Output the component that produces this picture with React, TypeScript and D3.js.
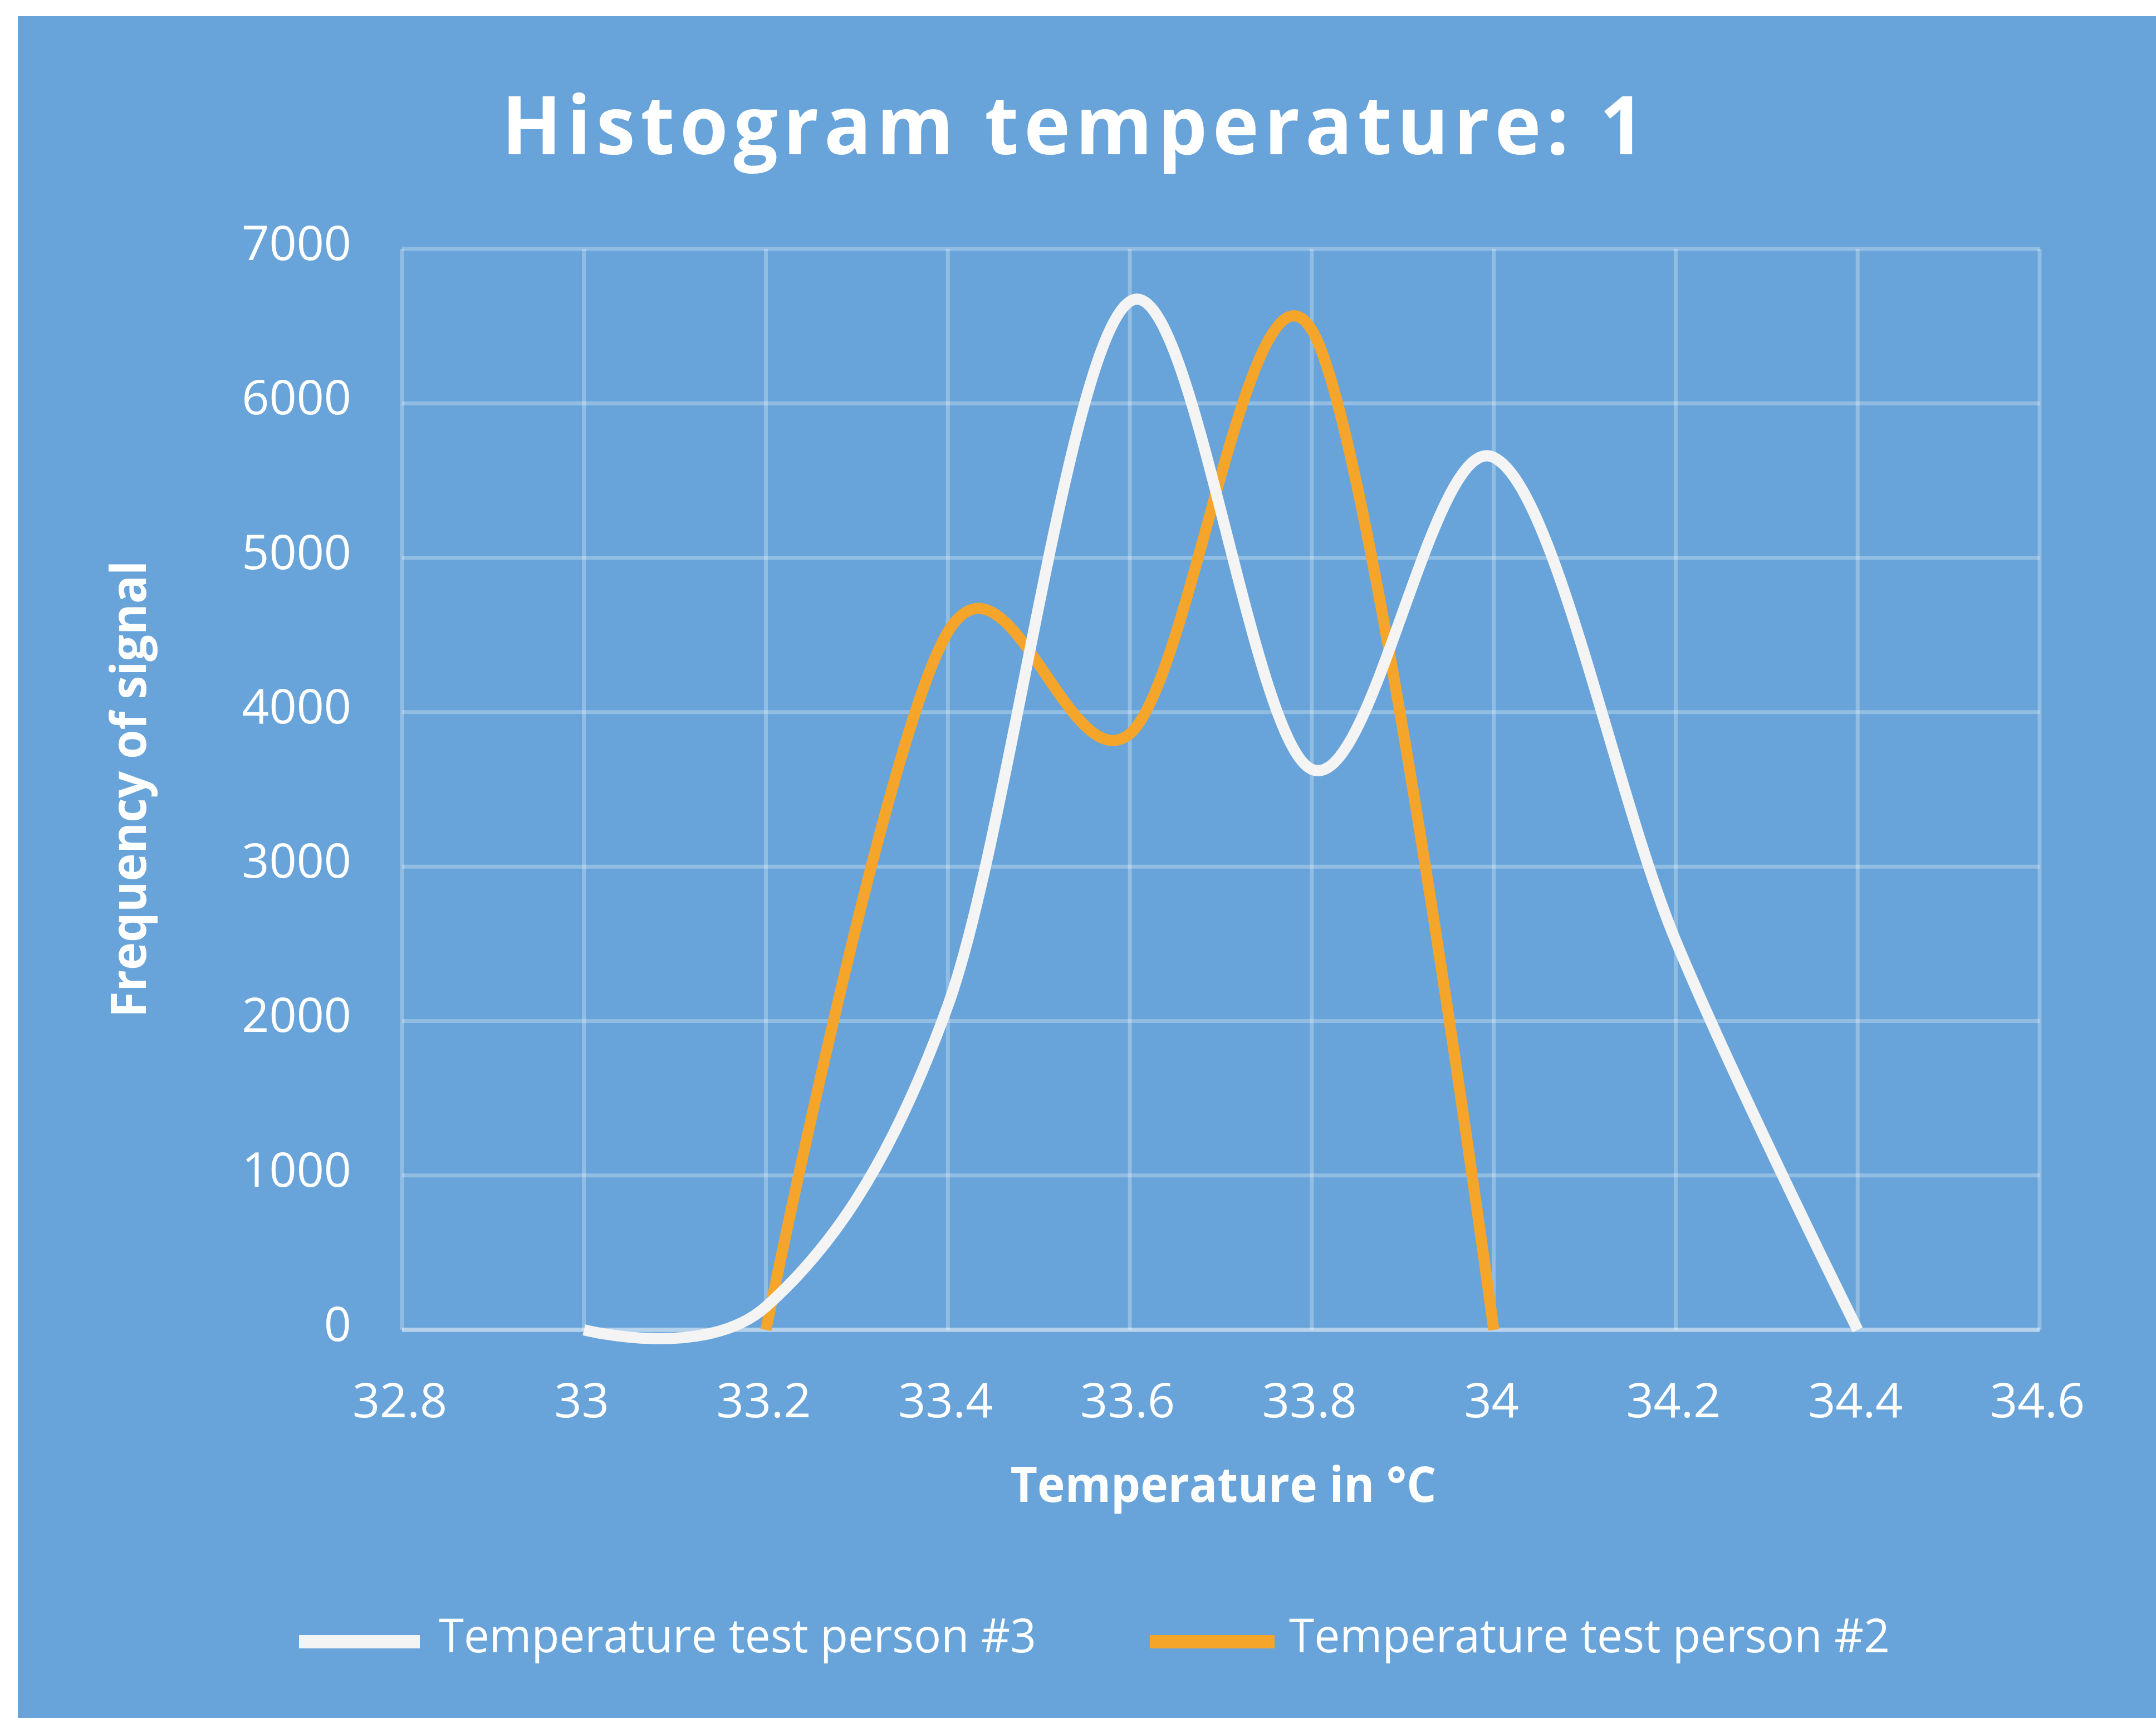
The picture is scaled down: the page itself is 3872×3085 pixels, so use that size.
import React from "react";
import * as d3 from "d3";

const xTickValues = [32.8, 33, 33.2, 33.4, 33.6, 33.8, 34, 34.2, 34.4, 34.6];
const xTickLabels = ["32.8", "33", "33.2", "33.4", "33.6", "33.8", "34", "34.2", "34.4", "34.6"];
const yTickValues = [0, 1000, 2000, 3000, 4000, 5000, 6000, 7000];

const person3Temps = [33.0, 33.2, 33.4, 33.6, 33.8, 34.0, 34.2, 34.4];
const person3Freq = [0, 150, 2100, 6660, 3630, 5650, 2520, 0];

const person2Temps = [33.2, 33.4, 33.6, 33.8, 34.0];
const person2Freq = [0, 4520, 3860, 6475, 0];

const seriesNames = ["Temperature test person #3", "Temperature test person #2"];
const titleText = "Histogram temperature: 1";
const xTitle = "Temperature in °C";
const yTitle = "Frequency of signal";

const W = 3872;
const H = 3085;
const BG = "#68A4D9";
const WHITE_LINE = "#F4F4F4";
const ORANGE = "#F5A52A";
const GRID = "rgba(255,255,255,0.28)";
const FONT = "'Open Sans', 'Noto Sans', sans-serif";

export default function App() {
  const left = 722, right = 3663, top = 447, bottom = 2388;
  const x = d3.scaleLinear().domain([32.8, 34.6]).range([left, right]);
  const y = d3.scaleLinear().domain([0, 7000]).range([bottom, top]);

  const line = d3
    .line<[number, number]>()
    .x((d) => x(d[0]))
    .y((d) => y(d[1]))
    .curve(d3.curveCardinal.tension(0));

  const p3 = person3Temps.map((t, i) => [t, person3Freq[i]] as [number, number]);
  const p2 = person2Temps.map((t, i) => [t, person2Freq[i]] as [number, number]);

  return (
    <svg
      width={W}
      height={H}
      style={{ position: "absolute", left: 0, top: 0, display: "block" }}
      xmlns="http://www.w3.org/2000/svg"
    >
      <rect x={0} y={0} width={W} height={H} fill="#ffffff" />
      <rect x={32} y={29} width={W - 32} height={H - 29} fill={BG} />

      <text
        x={1932}
        y={277}
        textAnchor="middle"
        fontFamily={FONT}
        fontWeight={700}
        fontSize={146}
        fill="#ffffff"
        letterSpacing={10}
        textLength={2062}
        lengthAdjust="spacingAndGlyphs"
      >
        {titleText}
      </text>

      {/* grid */}
      {yTickValues.map((v) => (
        <line key={"gy" + v} x1={left} x2={right} y1={y(v)} y2={y(v)} stroke={GRID} strokeWidth={7} />
      ))}
      {xTickValues.map((v) => (
        <line key={"gx" + v} x1={x(v)} x2={x(v)} y1={top} y2={bottom} stroke={GRID} strokeWidth={7} />
      ))}
      <line x1={left} x2={right} y1={y(0)} y2={y(0)} stroke="rgba(255,255,255,0.32)" strokeWidth={8} />

      {/* y tick labels */}
      {yTickValues.map((v) => (
        <text
          key={"ty" + v}
          x={631}
          y={y(v) + 20}
          textAnchor="end"
          fontFamily={FONT}
          fontSize={86}
          fill="#ffffff"
        >
          {String(v)}
        </text>
      ))}
      {/* x tick labels */}
      {xTickValues.map((v, i) => (
        <text
          key={"tx" + v}
          x={x(v) - 4}
          y={2545}
          textAnchor="middle"
          fontFamily={FONT}
          fontSize={86}
          fill="#ffffff"
        >
          {xTickLabels[i]}
        </text>
      ))}

      {/* axis titles */}
      <text
        x={2197}
        y={2697}
        textAnchor="middle"
        fontFamily={FONT}
        fontWeight={700}
        fontSize={88}
        fill="#ffffff"
        textLength={765}
        lengthAdjust="spacingAndGlyphs"
      >
        {xTitle}
      </text>
      <text
        transform={`translate(262,1417) rotate(-90)`}
        textAnchor="middle"
        fontFamily={FONT}
        fontWeight={700}
        fontSize={88}
        fill="#ffffff"
        textLength={820}
        lengthAdjust="spacingAndGlyphs"
      >
        {yTitle}
      </text>

      {/* series */}
      <path d={line(p2) || ""} fill="none" stroke={ORANGE} strokeWidth={20} strokeLinejoin="round" />
      <path d={line(p3) || ""} fill="none" stroke={WHITE_LINE} strokeWidth={20} strokeLinejoin="round" />

      {/* legend */}
      <line x1={537} x2={754} y1={2948} y2={2948} stroke={WHITE_LINE} strokeWidth={24} />
      <text
        x={788}
        y={2967}
        fontFamily={FONT}
        fontSize={84}
        fill="#ffffff"
        textLength={1073}
        lengthAdjust="spacingAndGlyphs"
      >
        {seriesNames[0]}
      </text>
      <line x1={2065} x2={2289} y1={2948} y2={2948} stroke={ORANGE} strokeWidth={24} />
      <text
        x={2315}
        y={2967}
        fontFamily={FONT}
        fontSize={84}
        fill="#ffffff"
        textLength={1079}
        lengthAdjust="spacingAndGlyphs"
      >
        {seriesNames[1]}
      </text>
    </svg>
  );
}
